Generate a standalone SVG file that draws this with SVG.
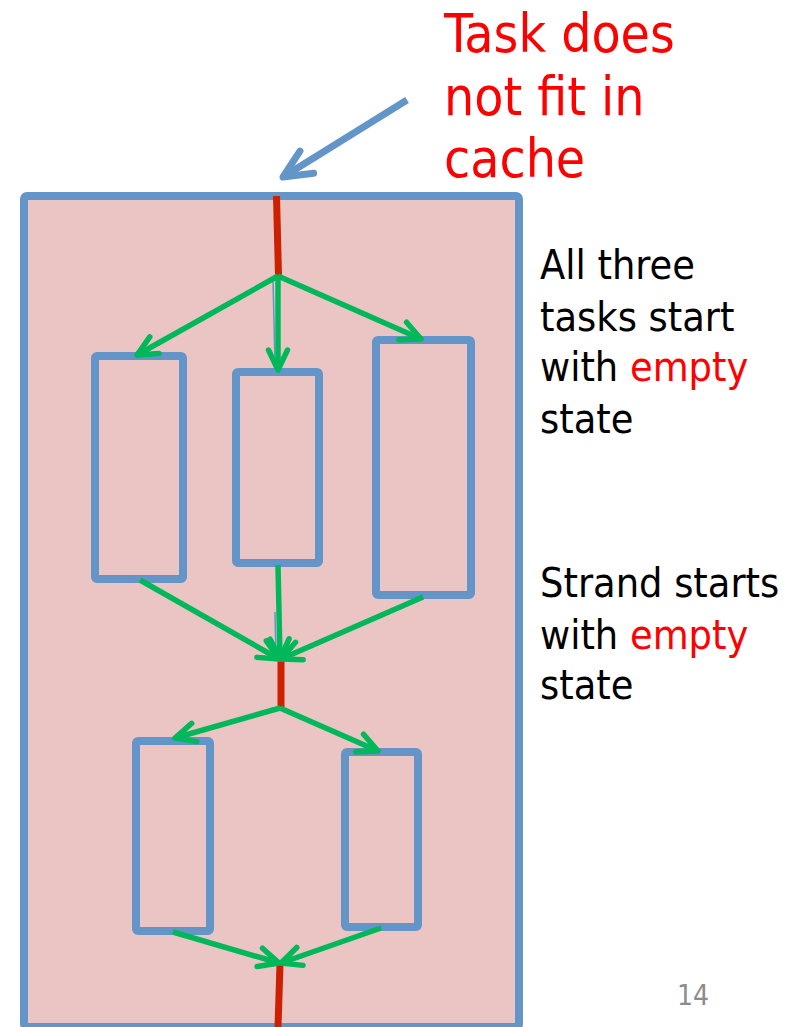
<svg xmlns="http://www.w3.org/2000/svg" width="802" height="1027" viewBox="0 0 802 1027">
<style>
.frame{fill:#EAC5C4;stroke:#6395C9;stroke-width:8;}
.box{fill:none;stroke:#6395C9;stroke-width:8;}
.strand{stroke:#CC2000;stroke-width:7;fill:none;}
.edge{stroke:#00B85A;stroke-width:5.5;fill:none;marker-end:url(#ga);}
.thin{stroke:#6395C9;stroke-width:1.5;fill:none;}
.t{font-family:"DejaVu Sans Condensed","DejaVu Sans",sans-serif;font-stretch:condensed;}
.title{fill:#FF0000;font-size:53px;}
.note{fill:#000000;font-size:41px;}
.red{fill:#FF0000;}
.pg{fill:#8C8C8C;font-size:28px;}
</style>
<defs>
<marker id="ga" markerUnits="userSpaceOnUse" viewBox="-25 -15 30 30" refX="0" refY="0" markerWidth="30" markerHeight="30" orient="auto" overflow="visible">
<path d="M-20,-9.5 L0,0 L-20,9.5" fill="none" stroke="#00B85A" stroke-width="5.5" stroke-linecap="round" stroke-linejoin="round"/>
</marker>
<marker id="ba" markerUnits="userSpaceOnUse" viewBox="-35 -20 40 40" refX="0" refY="0" markerWidth="40" markerHeight="40" orient="auto" overflow="visible">
<path d="M-28,-13 L0,0 L-28,13" fill="none" stroke="#6395C9" stroke-width="7" stroke-linecap="round" stroke-linejoin="round"/>
</marker>
</defs>
<g id="frame">
<rect class="frame" x="24" y="196" width="495" height="831" rx="3"/>
</g>
<g id="task1"><rect class="box" x="95" y="356" width="88" height="223" rx="2"/></g>
<g id="task2"><rect class="box" x="236" y="372" width="83" height="191" rx="2"/></g>
<g id="task3"><rect class="box" x="376" y="340" width="95" height="255" rx="2"/></g>
<g id="task4"><rect class="box" x="136" y="741" width="74" height="190" rx="2"/></g>
<g id="task5"><rect class="box" x="345" y="752" width="73" height="175" rx="2"/></g>
<g id="connectors">
<line class="strand" x1="276.5" y1="196" x2="278.5" y2="276"/>
<line class="strand" x1="281" y1="660" x2="281" y2="707"/>
<line class="strand" x1="280" y1="964" x2="278" y2="1027"/>
<line class="thin" x1="273" y1="279" x2="275" y2="365"/>
<line class="thin" x1="275" y1="612" x2="276" y2="657"/>
<path class="edge" d="M278,276 L137,355"/>
<path class="edge" d="M278,276 L278,370"/>
<path class="edge" d="M278,276 L421,339"/>
<path class="edge" d="M140,580 L279,659"/>
<path class="edge" d="M278,565 L280,659"/>
<path class="edge" d="M423,597 L281,659"/>
<path class="edge" d="M280,708 L175,738"/>
<path class="edge" d="M280,708 L378,751"/>
<path class="edge" d="M173,932 L279,963"/>
<path class="edge" d="M381,928 L281,963"/>
<path d="M407,100 L283,177" fill="none" stroke="#6395C9" stroke-width="7" stroke-linecap="butt" marker-end="url(#ba)"/>
</g>
<g id="title">
<text class="t title" x="444" y="52">Task does</text>
<text class="t title" x="444" y="115">not fit in</text>
<text class="t title" x="444" y="177">cache</text>
</g>
<g id="note1">
<text class="t note" x="540" y="279">All three</text>
<text class="t note" x="540" y="331">tasks start</text>
<text class="t note" x="540" y="381">with <tspan class="red">empty</tspan></text>
<text class="t note" x="540" y="433">state</text>
</g>
<g id="note2">
<text class="t note" x="540" y="597">Strand starts</text>
<text class="t note" x="540" y="649">with <tspan class="red">empty</tspan></text>
<text class="t note" x="540" y="699">state</text>
</g>
<g id="page">
<text class="t pg" x="677" y="1005">14</text>
</g>
</svg>
